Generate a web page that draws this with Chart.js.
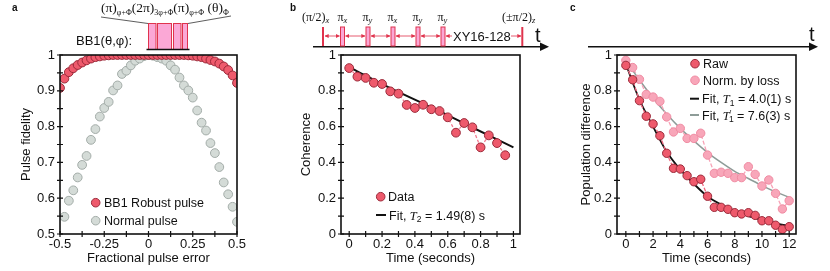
<!DOCTYPE html>
<html>
<head>
<meta charset="utf-8">
<script src="https://cdn.jsdelivr.net/npm/chart.js@4.4.1/dist/chart.umd.min.js"></script>
<style>
  body { margin: 0; background: #fff; width: 830px; height: 271px; position: relative; overflow: hidden; }
  canvas { position: absolute; top: 0; }
  #overlay { position: absolute; left: 0; top: 0; pointer-events: none; }
  #overlay text { font-family: "Liberation Sans", Arial, sans-serif; fill: #111; }
  #overlay .serif { font-family: "Liberation Serif", "DejaVu Serif", serif; }
</style>
</head>
<body>
<canvas id="chart-a" width="250" height="271" style="left:0px"></canvas>
<canvas id="chart-b" width="250" height="271" style="left:280px"></canvas>
<canvas id="chart-c" width="275" height="271" style="left:555px"></canvas>

<svg id="overlay" width="830" height="271" xmlns="http://www.w3.org/2000/svg">
  <defs>
    <marker id="ah" viewBox="0 0 6 6" refX="5.5" refY="3" markerWidth="5" markerHeight="5" orient="auto-start-reverse">
      <path d="M0,0 L6,3 L0,6 z" fill="#e0334d"/>
    </marker>
  </defs>
  <!-- panel letters -->
  <text x="12" y="11" font-size="10" font-weight="bold">a</text>
  <text x="290" y="11" font-size="10" font-weight="bold">b</text>
  <text x="570" y="11" font-size="10" font-weight="bold">c</text>

  <!-- panel a: BB1 sequence sketch -->
  <text class="serif" x="101" y="12" font-size="13.5">(π)<tspan font-size="8" dy="3">φ+Φ</tspan><tspan dy="-3">(2π)</tspan><tspan font-size="8" dy="3">3φ+Φ</tspan><tspan dy="-3">(π)</tspan><tspan font-size="8" dy="3">φ+Φ</tspan><tspan dy="-3"> (θ)</tspan><tspan font-size="8" dy="3">Φ</tspan></text>
  <line x1="101" y1="17" x2="148" y2="23.5" stroke="#333" stroke-width="0.8"/>
  <line x1="188" y1="23.5" x2="231" y2="16" stroke="#333" stroke-width="0.8"/>
  <rect x="148.5" y="23.5" width="7.5" height="26" fill="#fba8d6" stroke="#e0334d" stroke-width="1"/>
  <rect x="157.5" y="23.5" width="14" height="26" fill="#fba8d6" stroke="#e0334d" stroke-width="1"/>
  <rect x="173.5" y="23.5" width="7.5" height="26" fill="#fba8d6" stroke="#e0334d" stroke-width="1"/>
  <rect x="182.5" y="23.5" width="5" height="26" fill="#fba8d6" stroke="#e0334d" stroke-width="1"/>
  <line x1="146.5" y1="49.5" x2="189.5" y2="49.5" stroke="#111" stroke-width="1.6"/>
  <text x="76" y="45" font-size="13">BB1(θ,φ):</text>

  <!-- panel b: XY16 sequence sketch -->
  <line x1="313" y1="46.7" x2="543" y2="46.7" stroke="#111" stroke-width="1.6"/>
  <path d="M549,46.7 L540,42.5 L540,50.9 z" fill="#111"/>
  <text x="535" y="42" font-size="20">t</text>
  <line x1="323" y1="27" x2="323" y2="46" stroke="#e0334d" stroke-width="2"/>
  <line x1="522.3" y1="27" x2="522.3" y2="46" stroke="#e0334d" stroke-width="2"/>
  <rect x="340.5" y="27" width="4" height="19" fill="#fba8d6" stroke="#e0334d" stroke-width="1"/>
  <rect x="366" y="27" width="4" height="19" fill="#fba8d6" stroke="#e0334d" stroke-width="1"/>
  <rect x="391" y="27" width="4" height="19" fill="#fba8d6" stroke="#e0334d" stroke-width="1"/>
  <rect x="416" y="27" width="4" height="19" fill="#fba8d6" stroke="#e0334d" stroke-width="1"/>
  <rect x="441" y="27" width="4" height="19" fill="#fba8d6" stroke="#e0334d" stroke-width="1"/>
  <g stroke="#e0334d" stroke-width="0.8">
    <line x1="325" y1="36" x2="339.5" y2="36" marker-start="url(#ah)" marker-end="url(#ah)"/>
    <line x1="345.5" y1="36" x2="365" y2="36" marker-start="url(#ah)" marker-end="url(#ah)"/>
    <line x1="371" y1="36" x2="390" y2="36" marker-start="url(#ah)" marker-end="url(#ah)"/>
    <line x1="396" y1="36" x2="415" y2="36" marker-start="url(#ah)" marker-end="url(#ah)"/>
    <line x1="421" y1="36" x2="440" y2="36" marker-start="url(#ah)" marker-end="url(#ah)"/>
    <line x1="446" y1="36" x2="452" y2="36" marker-start="url(#ah)"/>
    <line x1="511" y1="36" x2="521" y2="36" marker-end="url(#ah)"/>
  </g>
  <text x="453" y="41" font-size="13">XY16-128</text>
  <g class="serif" font-size="12">
    <text class="serif" x="302" y="21">(π/2)<tspan font-size="8.5" font-style="italic" dy="2">x</tspan></text>
    <text class="serif" x="337.5" y="21">π<tspan font-size="8.5" font-style="italic" dy="2">x</tspan></text>
    <text class="serif" x="362.5" y="21">π<tspan font-size="8.5" font-style="italic" dy="2">y</tspan></text>
    <text class="serif" x="387.5" y="21">π<tspan font-size="8.5" font-style="italic" dy="2">x</tspan></text>
    <text class="serif" x="412.5" y="21">π<tspan font-size="8.5" font-style="italic" dy="2">y</tspan></text>
    <text class="serif" x="437.5" y="21">π<tspan font-size="8.5" font-style="italic" dy="2">y</tspan></text>
    <text class="serif" x="502" y="21">(±π/2)<tspan font-size="8.5" font-style="italic" dy="2">z</tspan></text>
  </g>

  <!-- panel c: time arrow -->
  <line x1="588" y1="46.7" x2="811" y2="46.7" stroke="#111" stroke-width="1.6"/>
  <path d="M818,46.7 L809,42.5 L809,50.9 z" fill="#111"/>
  <text x="809" y="41" font-size="20">t</text>

  <!-- legends -->
  <circle cx="95.7" cy="202.7" r="4.3" fill="#ee5a6c" stroke="#9b2a3a" stroke-width="1"/>
  <text x="104" y="207" font-size="12.5">BB1 Robust pulse</text>
  <circle cx="95.7" cy="220.7" r="4.3" fill="#d4dbd7" stroke="#a3aca8" stroke-width="1"/>
  <text x="104" y="225" font-size="12.5">Normal pulse</text>

  <circle cx="380.7" cy="196.7" r="4.3" fill="#ee5a6c" stroke="#9b2a3a" stroke-width="1"/>
  <text x="388" y="201" font-size="12.5">Data</text>
  <line x1="376" y1="215" x2="386" y2="215" stroke="#111" stroke-width="2"/>
  <text x="389" y="219.5" font-size="12.5">Fit, <tspan class="serif" font-style="italic">T</tspan><tspan font-size="8.5" dy="2.5">2</tspan><tspan dy="-2.5"> = 1.49(8) s</tspan></text>

  <circle cx="695" cy="63.7" r="4.3" fill="#ee5a6c" stroke="#9b2a3a" stroke-width="1"/>
  <text x="703" y="68" font-size="12.5">Raw</text>
  <circle cx="695" cy="80.3" r="4.3" fill="#f8a6b9" stroke="#ef8ba2" stroke-width="1"/>
  <text x="703" y="84.5" font-size="12.5">Norm. by loss</text>
  <line x1="690" y1="98.7" x2="699" y2="98.7" stroke="#111" stroke-width="2"/>
  <text x="702" y="103" font-size="12.5">Fit, <tspan class="serif" font-style="italic">T</tspan><tspan font-size="8.5" dy="2.5">1</tspan><tspan dy="-2.5"> = 4.0(1) s</tspan></text>
  <line x1="690" y1="115" x2="699" y2="115" stroke="#8e9c98" stroke-width="2"/>
  <text x="702" y="119.5" font-size="12.5">Fit, <tspan class="serif" font-style="italic">T</tspan><tspan font-size="8.5" dy="-4">′</tspan><tspan font-size="8.5" dy="6.5" dx="-2.5">1</tspan><tspan dy="-2.5"> = 7.6(3) s</tspan></text>
</svg>

<script>
'use strict';

const FONT = '"Liberation Sans", Arial, sans-serif';
const RED = '#ee5a6c';
const RED_EDGE = '#9b2a3a';
const GREY = '#d4dbd7';
const GREY_EDGE = '#a3aca8';
const PINK = '#f8a6b9';
const PINK_EDGE = '#ef8ba2';

// ---- panel a: pulse fidelity vs fractional pulse error ----
const fracErr = [-0.5, -0.475, -0.45, -0.425, -0.4, -0.375, -0.35, -0.325, -0.3, -0.275,
  -0.25, -0.225, -0.2, -0.175, -0.15, -0.125, -0.1, -0.075, -0.05, -0.025, 0,
  0.025, 0.05, 0.075, 0.1, 0.125, 0.15, 0.175, 0.2, 0.225, 0.25,
  0.275, 0.3, 0.325, 0.35, 0.375, 0.4, 0.425, 0.45, 0.475, 0.5];
const bb1Fidelity = [0.908, 0.934, 0.952, 0.963, 0.972, 0.979, 0.985, 0.990, 0.994, 0.996,
  0.998, 0.999, 1, 1, 1, 1, 1, 1, 1, 1, 1,
  1, 1, 1, 1, 1, 1, 1, 1, 0.999, 0.998,
  0.996, 0.994, 0.990, 0.986, 0.982, 0.976, 0.968, 0.958, 0.943, 0.922];
const normalFidelity = [null, 0.548, 0.593, 0.622, 0.658, 0.693, 0.718, 0.763, 0.793, 0.828,
  0.852, 0.869, 0.901, 0.915, 0.947, 0.956, 0.971, 0.984, 0.990, 0.997, 1.0,
  0.998, 0.994, 0.990, 0.984, 0.971, 0.959, 0.937, 0.915, 0.901, 0.881,
  0.845, 0.811, 0.789, 0.754, 0.726, 0.687, 0.644, 0.611, 0.576, 0.534];
const aXTicks = [-0.5, -0.375, -0.25, -0.125, 0, 0.125, 0.25, 0.375, 0.5];
const aXLabels = [-0.5, -0.25, 0, 0.25, 0.5];
const aYTicks = [0.5, 0.55, 0.6, 0.65, 0.7, 0.75, 0.8, 0.85, 0.9, 0.95, 1];
const aYLabels = [0.5, 0.6, 0.7, 0.8, 0.9, 1];

// ---- panel b: coherence under XY16-128 ----
const timeB = [0, 0.05, 0.1, 0.15, 0.2, 0.25, 0.3, 0.35, 0.4, 0.45,
  0.5, 0.55, 0.6, 0.65, 0.7, 0.75, 0.8, 0.85, 0.9, 0.95];
const coherence = [0.927, 0.879, 0.872, 0.845, 0.838, 0.797, 0.784, 0.721, 0.704, 0.722,
  0.697, 0.687, 0.652, 0.566, 0.620, 0.596, 0.484, 0.551, 0.508, 0.440];
const fitT2Time = [0.02, 0.25, 0.5, 0.75, 1.0];
const fitT2 = [0.923, 0.815, 0.708, 0.595, 0.484];
const bXTicks = [0, 0.1, 0.2, 0.3, 0.4, 0.5, 0.6, 0.7, 0.8, 0.9, 1];
const bXLabels = [0, 0.2, 0.4, 0.6, 0.8, 1];
const bYTicks = [0, 0.1, 0.2, 0.3, 0.4, 0.5, 0.6, 0.7, 0.8, 0.9, 1];
const bYLabels = [0, 0.2, 0.4, 0.6, 0.8, 1];

// ---- panel c: population difference (T1) ----
const timeC = [0, 0.5, 1, 1.5, 2, 2.5, 3, 3.5, 4, 4.5, 5, 5.5, 6,
  6.5, 7, 7.5, 8, 8.5, 9, 9.5, 10, 10.5, 11, 11.5, 12];
const rawPop = [0.942, 0.862, 0.745, 0.658, 0.615, 0.549, 0.451, 0.367, 0.363, 0.326, 0.292, 0.306, 0.211,
  0.149, 0.149, 0.138, 0.119, 0.112, 0.119, 0.104, 0.074, 0.074, 0.049, 0.026, 0.041];
const normPop = [0.970, 0.930, 0.864, 0.780, 0.765, 0.741, 0.654, 0.570, 0.590, 0.534, 0.534, 0.563, 0.441,
  0.339, 0.345, 0.339, 0.315, 0.315, 0.376, 0.333, 0.268, 0.302, 0.227, 0.140, 0.186];
const fitTime = [0, 1, 2, 3, 4, 5, 6, 7, 8, 9, 10, 11, 12];
const fitT1 = [0.95, 0.75, 0.60, 0.46, 0.36, 0.28, 0.21, 0.165, 0.13, 0.10, 0.078, 0.06, 0.045];
const fitT1Norm = [0.97, 0.86, 0.76, 0.67, 0.59, 0.52, 0.455, 0.40, 0.35, 0.31, 0.27, 0.235, 0.205];
const cXTicks = [0, 1, 2, 3, 4, 5, 6, 7, 8, 9, 10, 11, 12];
const cXLabels = [0, 2, 4, 6, 8, 10, 12];
const cYTicks = [0, 0.1, 0.2, 0.3, 0.4, 0.5, 0.6, 0.7, 0.8, 0.9, 1];
const cYLabels = [0, 0.2, 0.4, 0.6, 0.8, 1];

function pts(xs, ys) {
    return xs.map((x, i) => ({x: x, y: ys[i]}));
}

// box round the plot plus ticks that cross the left and bottom axes
const boxPlugin = {
    id: 'box',
    afterDraw(chart) {
        const {ctx, chartArea: a, scales} = chart;
        ctx.save();
        ctx.strokeStyle = '#111';
        ctx.lineWidth = 1.6;
        ctx.strokeRect(a.left, a.top, a.right - a.left, a.bottom - a.top);
        ctx.lineWidth = 1.2;
        ctx.beginPath();
        scales.x.ticks.forEach(t => {
            const p = scales.x.getPixelForValue(t.value);
            ctx.moveTo(p, a.bottom - 3);
            ctx.lineTo(p, a.bottom + 3);
        });
        scales.y.ticks.forEach(t => {
            const p = scales.y.getPixelForValue(t.value);
            ctx.moveTo(a.left - 3, p);
            ctx.lineTo(a.left + 3, p);
        });
        ctx.stroke();
        ctx.restore();
    }
};

function axis(min, max, tickVals, labelVals, title, size, titlePad, tickPad) {
    return {
        type: 'linear',
        min: min,
        max: max,
        afterBuildTicks: s => { s.ticks = tickVals.map(v => ({value: v})); },
        afterFit: s => { if (s.isHorizontal()) s.height = size; else s.width = size; },
        grid: {display: false, drawTicks: false},
        border: {display: false},
        ticks: {
            autoSkip: false,
            maxRotation: 0,
            padding: tickPad,
            color: '#111',
            font: {size: 13, family: FONT},
            callback: v => labelVals.some(l => Math.abs(l - v) < 1e-9) ? String(+v.toFixed(3)) : ''
        },
        title: {display: true, text: title, color: '#111', font: {size: 13, family: FONT}, padding: titlePad}
    };
}

function makeChart(id, datasets, xAxis, yAxis, rightPad) {
    return new Chart(document.getElementById(id), {
        type: 'line',
        data: {datasets: datasets},
        options: {
            responsive: false,
            maintainAspectRatio: false,
            devicePixelRatio: 1,
            animation: false,
            events: [],
            layout: {padding: {left: 0, right: rightPad, top: 55, bottom: 0}},
            plugins: {legend: {display: false}, tooltip: {enabled: false}},
            scales: {x: xAxis, y: yAxis}
        },
        plugins: [boxPlugin]
    });
}

function markers(data, fill, edge, radius) {
    return {
        data: data,
        showLine: false,
        pointRadius: radius,
        pointBackgroundColor: fill,
        pointBorderColor: edge,
        pointBorderWidth: 1
    };
}

function curve(data, color, width, dash) {
    return {
        data: data,
        borderColor: color,
        borderWidth: width,
        borderDash: dash || [],
        pointRadius: 0,
        tension: 0.3,
        fill: false
    };
}

// panel a
makeChart('chart-a', [
    markers(pts(fracErr, bb1Fidelity), RED, RED_EDGE, 4.4),
    markers(pts(fracErr, normalFidelity), GREY, GREY_EDGE, 4.4)
], axis(-0.5, 0.5, aXTicks, aXLabels, 'Fractional pulse error', 37, {top: 0, bottom: 5}, 3),
   axis(0.5, 1, aYTicks, aYLabels, 'Pulse fidelity', 60, {top: 19, bottom: 0}, 5), 13);

// panel b
const dataB = Object.assign(markers(pts(timeB, coherence), RED, RED_EDGE, 4.4), {
    showLine: true, borderColor: '#f27a90', borderWidth: 1.3, borderDash: [3, 2], tension: 0
});
makeChart('chart-b', [
    dataB,
    curve(pts(fitT2Time, fitT2), '#111', 2)
], axis(-0.05, 1.04, bXTicks, bXLabels, 'Time (seconds)', 37, {top: 0, bottom: 5}, 3),
   axis(0, 1, bYTicks, bYLabels, 'Coherence', 61, {top: 19, bottom: 0}, 5), 10);

// panel c
const rawC = Object.assign(markers(pts(timeC, rawPop), RED, RED_EDGE, 4.2), {
    showLine: true, borderColor: '#f26a82', borderWidth: 1.3, borderDash: [4, 2], tension: 0
});
const normC = Object.assign(markers(pts(timeC, normPop), PINK, PINK_EDGE, 4.2), {
    showLine: true, borderColor: '#f8a3b7', borderWidth: 1.3, borderDash: [4, 2], tension: 0
});
makeChart('chart-c', [
    rawC,
    normC,
    curve(pts(fitTime, fitT1), '#111', 1.8),
    curve(pts(fitTime, fitT1Norm), '#8e9c98', 1.5)
], axis(-0.65, 12.5, cXTicks, cXLabels, 'Time (seconds)', 37, {top: 0, bottom: 5}, 3),
   axis(0, 1, cYTicks, cYLabels, 'Population difference', 62, {top: 24, bottom: 0}, 5), 34);
</script>
</body>
</html>
